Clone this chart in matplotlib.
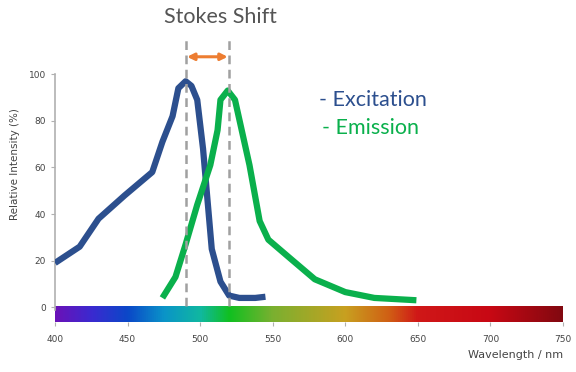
import matplotlib.pyplot as plt
import numpy as np
from matplotlib.colors import LinearSegmentedColormap

# excitation spectrum (nm, %)
ex_nm = [400, 417, 430, 448, 467, 474, 481, 485, 490, 494, 498, 502, 508, 514, 520, 527, 538, 545]
ex_val = [19, 26, 38, 48, 58, 71, 82, 94, 97, 95, 89, 68, 25, 11, 5, 4, 4, 4.5]

# emission spectrum (nm, %)
em_nm = [474, 483, 490, 498, 507, 512, 514, 519, 524, 534, 541, 547, 562, 579, 600, 620, 649]
em_val = [4, 13, 27, 44, 61, 76, 89, 93, 89, 61, 37, 29, 21, 12, 6.5, 4, 3]

ex_peak = 490
em_peak = 520

spec_nm = [400, 425, 450, 475, 500, 520, 550, 600, 630, 650, 700, 750]
spec_col = ["#6a12b8", "#3a2ad0", "#0a48c8", "#0a94c8", "#10b8a0", "#10c020",
            "#7ab030", "#c8a020", "#d06014", "#d01818", "#c80814", "#820810"]

blue = "#2c4f8e"
green = "#0ab04c"
grey_txt = "#555555"

fig = plt.figure(figsize=(5.76, 3.72), dpi=100)
# 0 -> y=307px, 2.33 px per unit
ax = fig.add_axes([0.0955, 0.134, 0.8819, 0.8518])
ax.set_xlim(400, 750)
ax.set_ylim(-6.4, 129.6)

# spectrum bar
pos = [(n - 400) / 350 for n in spec_nm]
cmap = LinearSegmentedColormap.from_list("spec", list(zip(pos, spec_col)))
grad = np.linspace(0, 1, 512).reshape(1, -1)
ax.imshow(grad, cmap=cmap, aspect="auto", extent=(400, 750, -6.3, 0.3), zorder=1)

ax.plot(ex_nm, ex_val, color=blue, lw=4.5, solid_capstyle="butt", solid_joinstyle="round", zorder=3)
ax.plot(em_nm, em_val, color=green, lw=4.5, solid_capstyle="butt", solid_joinstyle="round", zorder=3)

for x in (ex_peak, em_peak):
    ax.plot([x, x], [0.5, 115], color="#a0a0a0", lw=1.8, ls=(0, (3.5, 2.2)), zorder=4, clip_on=False)

ax.annotate("", xy=(ex_peak + 1, 107.5), xytext=(em_peak - 1, 107.5),
            arrowprops=dict(arrowstyle="<|-|>", color="#ed7d31", lw=2.2,
                            mutation_scale=10, shrinkA=0, shrinkB=0))
ax.text(514, 124.5, "Stokes Shift", ha="center", va="center",
        fontsize=15.5, color=grey_txt, family="Lato")
ax.text(582, 89, "- Excitation", color=blue, fontsize=15.5, family="Lato", va="center")
ax.text(584, 77, "- Emission", color=green, fontsize=15.5, family="Lato", va="center")

for s in ("top", "right", "bottom"):
    ax.spines[s].set_visible(False)
ax.spines["left"].set_bounds(-1, 100)
ax.spines["left"].set_color("#b0b0b0")
ax.spines["left"].set_linewidth(1.2)

ax.set_yticks([0, 20, 40, 60, 80, 100])
ax.set_xticks(range(400, 751, 50))
ax.tick_params(axis="both", colors="#b0b0b0", labelcolor="#444444", labelsize=6.5, length=3)
ax.tick_params(axis="x", pad=6)

ax.set_ylabel("Relative Intensity (%)", fontsize=7.5, color="#444444", labelpad=6)
fig.text(0.978, 0.037, "Wavelength / nm", ha="right", fontsize=8, color="#444444")

fig.savefig("out.png", dpi=100)
